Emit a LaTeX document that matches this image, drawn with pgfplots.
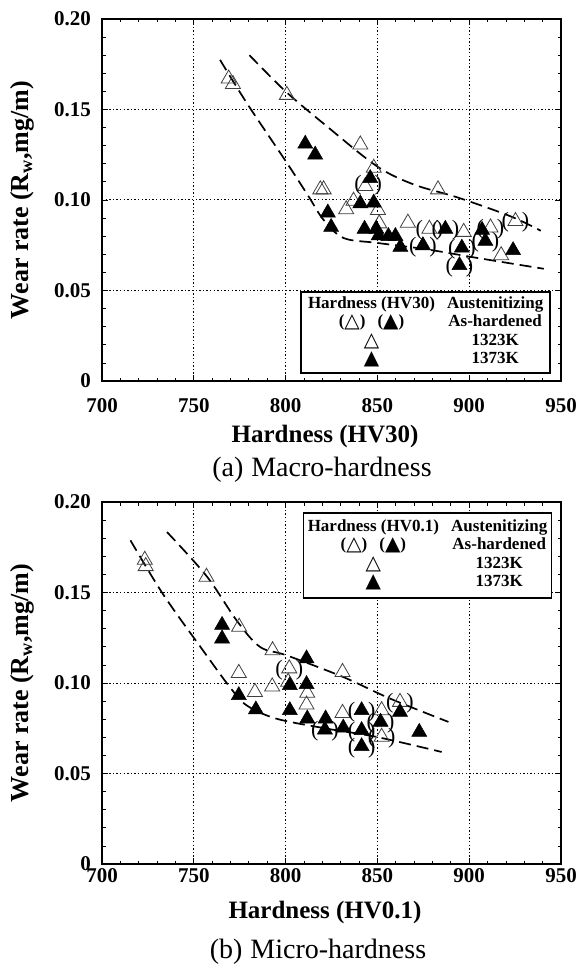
\documentclass[border=0pt]{standalone}
\usepackage{fontspec}
\setmainfont{Liberation Serif}
\newfontfamily\sym{DejaVu Sans}
\newcommand\tri[1]{\smash{\raisebox{-1pt}{\fontsize{20}{20}\selectfont\sym\mdseries #1}}}
\usepackage{pgfplots}
\pgfplotsset{compat=1.18}
\pgfplotsset{
 myax/.style={
  scale only axis, width=459pt, height=362pt,
  xmin=700,xmax=950,ymin=0,ymax=0.2,
  xtick={700,750,800,850,900,950}, ytick={0,0.05,0.1,0.15,0.2},
  xticklabels={700,750,800,850,900,950},
  yticklabels={0,0.05,0.10,0.15,0.20},
  minor x tick num=4, minor y tick num=4,
  tick align=inside,
  major tick length=6pt, minor tick length=3.5pt,
  tick style={black, line width=0.8pt},
  axis line style={line width=1.8pt},
  grid=major,
  major grid style={black, line width=1pt, dash pattern=on 1.4pt off 2.2pt},
  /pgf/number format/assume math mode=true,
  ticklabel style={font=\fontsize{21}{24}\selectfont\bfseries},
  yticklabel style={inner sep=0pt, anchor=east, xshift=-11pt},
  ylabel={Wear rate (R\textsubscript{w},mg/m)},
  ylabel style={font=\fontsize{26}{30}\selectfont\bfseries, at={(axis description cs:-0.174,0.5)}, anchor=center},
  xlabel style={font=\fontsize{25}{30}\selectfont\bfseries, anchor=center},
 },
 open/.style={only marks, mark=triangle, mark size=8.7pt, mark options={fill=white, draw=black!75, line width=0.8pt}},
 filled/.style={only marks, mark=triangle*, mark size=8.7pt, mark options={fill=black, draw=black, line width=0.5pt}},
 paren/.style={only marks, mark=text, text mark={(\hspace{13pt})}, text mark as node=true, text mark style={font=\fontsize{22}{22}\selectfont, inner sep=0pt, yshift=-1.5pt}},
 curve/.style={black, line width=1.7pt, dash pattern=on 12pt off 6pt, smooth, tension=0.55, no marks},
}
\begin{document}
\begin{tikzpicture}
\path[use as bounding box] (0pt,0pt) rectangle (579pt,-968pt);
% ---------------- (a) Macro-hardness ----------------
\begin{axis}[myax, at={(102pt,-19pt)}, anchor=north west,
  xticklabel style={inner sep=0pt, anchor=north, yshift=-17pt},
  xlabel={Hardness (HV30)},
  xlabel style={at={(axis description cs:0.486,-0.154)}}]
\addplot[curve] coordinates {(780.3,0.180) (800,0.160) (822.5,0.1407) (849.8,0.1186) (870,0.1085) (893.4,0.1015) (922.5,0.091) (939,0.083)};
\addplot[curve] coordinates {(764.3,0.1774) (778.9,0.1535) (800.7,0.1205) (812.5,0.102) (820.7,0.089) (831.6,0.079) (849.8,0.0763) (877,0.0727) (904.3,0.068) (940.6,0.062)};
\addplot[open] coordinates {
(769,0.167) (771.3,0.164) (800.7,0.158) (840.7,0.1306) (848,0.1177) (843.4,0.1076)
(883,0.1058) (818.9,0.1058) (820.7,0.1058) (833,0.0948) (837,0.0995) (850.3,0.0944)
(851,0.087) (866.6,0.0874) (878.3,0.084) (897,0.0823) (911.6,0.0847) (917.4,0.0694) (925.2,0.0883)};
\addplot[filled] coordinates {
(810.7,0.131) (816.1,0.125) (846.1,0.112) (840.7,0.098) (848,0.0985) (823,0.093)
(824.8,0.085) (843,0.084) (849.4,0.084) (850.7,0.0804) (856,0.080) (859.8,0.080)
(862.5,0.074) (874.8,0.0749) (887,0.084) (896,0.0736) (894.7,0.0639) (907,0.0834)
(908.8,0.0773) (923.9,0.0722)};
\addplot[paren] coordinates {
(845,0.109) (874.8,0.0749) (878.3,0.084) (887,0.084) (896,0.0736) (894.7,0.0639)
(911.6,0.0847) (908.8,0.0773) (925.2,0.0883)};
\node[draw, line width=1.8pt, fill=white, anchor=north west, minimum width=249pt, minimum height=81pt, inner sep=2pt]
 at (axis cs:808,0.0497) {\fontsize{17}{18.3}\selectfont\bfseries
 \begin{tabular}{@{}c@{\hspace{12pt}}c@{}}
 Hardness (HV30) & Austenitizing\\
 (\tri{△})\hspace{12pt}(\tri{▲}) & As-hardened\\
 \tri{△} & 1323K\\
 \tri{▲} & 1373K
 \end{tabular}};
\end{axis}
\node[font=\fontsize{28}{32}\selectfont] at (322pt,-470pt) {(a)\hspace{8pt}Macro-hardness};
% ---------------- (b) Micro-hardness ----------------
\begin{axis}[myax, at={(102pt,-502pt)}, anchor=north west,
  xticklabel style={inner sep=0pt, anchor=north, yshift=-4pt},
  xlabel={Hardness (HV0.1)},
  xlabel style={at={(axis description cs:0.486,-0.135)}}]
\addplot[curve] coordinates {(735.4,0.1834) (757,0.159) (773.3,0.1346) (786,0.12) (800.5,0.1153) (831.4,0.1033) (856.9,0.0914) (888.7,0.0785)};
\addplot[curve] coordinates {(715.5,0.1788) (733.3,0.149) (755,0.118) (769.6,0.0978) (778.7,0.0877) (795,0.0803) (822.4,0.0748) (849.6,0.0702) (885,0.0619)};
\addplot[open] coordinates {
(723.3,0.168) (723.8,0.1645) (756.9,0.1586) (774.7,0.131) (792.9,0.118) (802,0.108)
(831,0.106) (774.5,0.1055) (783.3,0.095) (792.7,0.098) (801.4,0.1006) (811.8,0.0945)
(811.4,0.088) (831,0.0834) (852.3,0.0849) (852.3,0.0702) (862.3,0.0895)};
\addplot[filled] coordinates {
(765.4,0.132) (765.4,0.1245) (811.4,0.1135) (802.3,0.0987) (811.4,0.0993) (774.5,0.0932)
(783.8,0.0853) (802.3,0.0849) (811.8,0.0803) (821.8,0.0803) (821.4,0.0742) (831.4,0.0753)
(841.4,0.0849) (841.4,0.0739) (841.4,0.065) (851.7,0.0785) (862.3,0.084) (872.8,0.0729)};
\addplot[paren] coordinates {
(802,0.108) (821.4,0.0742) (841.4,0.0849) (841.4,0.0739) (841.4,0.065) (851.7,0.0785)
(852.3,0.0702) (862.3,0.0895)};
\node[draw, line width=1.8pt, fill=white, anchor=north west, minimum width=248pt, minimum height=85pt, inner sep=2pt]
 at (axis cs:809.3,0.1945) {\fontsize{17}{18.3}\selectfont\bfseries
 \begin{tabular}{@{}c@{\hspace{12pt}}c@{}}
 Hardness (HV0.1) & Austenitizing\\
 (\tri{△})\hspace{12pt}(\tri{▲}) & As-hardened\\
 \tri{△} & 1323K\\
 \tri{▲} & 1373K
 \end{tabular}};
\end{axis}
\node[font=\fontsize{28}{32}\selectfont] at (318pt,-952pt) {(b)\hspace{8pt}Micro-hardness};
\end{tikzpicture}
\end{document}
